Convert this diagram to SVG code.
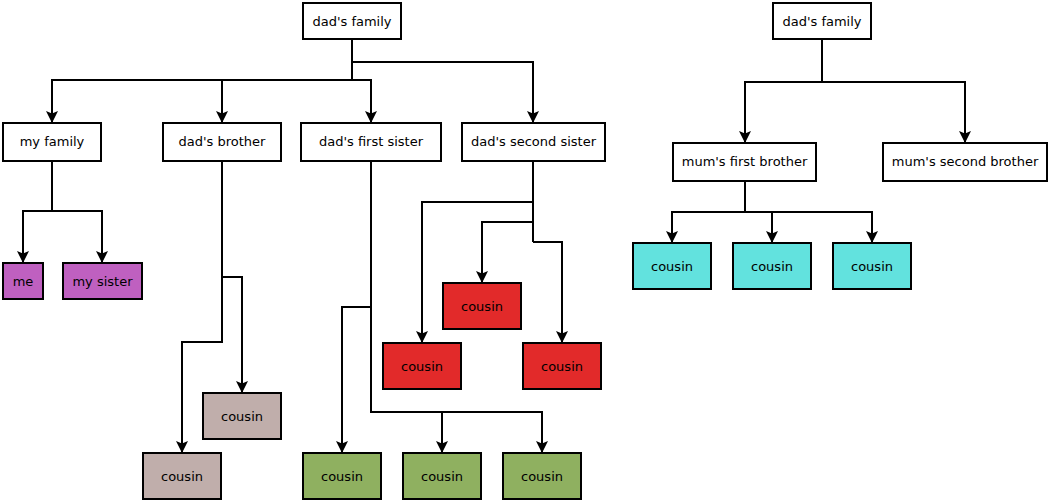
<svg xmlns="http://www.w3.org/2000/svg" width="1050" height="501" viewBox="0 0 1050 501">
<style>
.box{stroke:#000;stroke-width:2;fill:#fff}
.purple{fill:#bf60c0}
.brown{fill:#c0aeab}
.green{fill:#8fb060}
.red{fill:#e22a2a}
.cyan{fill:#62e2de}
text{font-family:"DejaVu Sans","Liberation Sans",sans-serif;font-size:13px;fill:#000;text-anchor:middle}
.c path{fill:none;stroke:#000;stroke-width:2}
.c path.a{marker-end:url(#arr)}
</style>
<defs>
<marker id="arr" viewBox="0 0 12 12" markerWidth="12" markerHeight="12" refX="11" refY="6" orient="auto" markerUnits="userSpaceOnUse">
<path d="M0,0 L12,6 L0,12 L2.5,6 Z" fill="#000"/>
</marker>
</defs>
<g class="c" id="connectors">
<path d="M352,39 V80"/>
<path class="a" d="M352,80 H52 V122"/>
<path class="a" d="M352,80 H222 V122"/>
<path class="a" d="M352,80 H371 V122"/>
<path class="a" d="M352,62 H533 V122"/>
<path d="M52,161 V211"/>
<path class="a" d="M52,211 H23 V262"/>
<path class="a" d="M52,211 H102 V262"/>
<path class="a" d="M222,161 V342 H182 V452"/>
<path class="a" d="M222,277 H242 V392"/>
<path class="a" d="M371,161 V412 H542 V452"/>
<path class="a" d="M442,412 V452"/>
<path class="a" d="M371,307 H342 V452"/>
<path d="M533,161 V242"/>
<path class="a" d="M533,202 H422 V342"/>
<path class="a" d="M533,222 H482 V282"/>
<path class="a" d="M533,242 H562 V342"/>
<path d="M822,39 V82"/>
<path class="a" d="M822,82 H745 V142"/>
<path class="a" d="M822,82 H965 V142"/>
<path d="M745,181 V212"/>
<path class="a" d="M745,212 H672 V242"/>
<path class="a" d="M745,212 H772 V242"/>
<path class="a" d="M745,212 H872 V242"/>
</g>
<g id="n-dads-family"><rect class="box" x="303" y="3" width="98" height="36"/><text x="352" y="25.5">dad's family</text></g>
<g id="n-my-family"><rect class="box" x="3" y="123" width="98" height="38"/><text x="52" y="146">my family</text></g>
<g id="n-dads-brother"><rect class="box" x="163" y="123" width="118" height="38"/><text x="222" y="146">dad's brother</text></g>
<g id="n-dads-first-sister"><rect class="box" x="301" y="123" width="140" height="38"/><text x="371" y="146">dad's first sister</text></g>
<g id="n-dads-second-sister"><rect class="box" x="462" y="123" width="143" height="38"/><text x="533.5" y="146">dad's second sister</text></g>
<g id="n-me"><rect class="box purple" x="3" y="263" width="40" height="36"/><text x="23" y="285.5">me</text></g>
<g id="n-my-sister"><rect class="box purple" x="63" y="263" width="79" height="36"/><text x="102.5" y="285.5">my sister</text></g>
<g id="n-cousin-b1"><rect class="box brown" x="203" y="393" width="78" height="46"/><text x="242" y="420.5">cousin</text></g>
<g id="n-cousin-b2"><rect class="box brown" x="143" y="453" width="78" height="46"/><text x="182" y="480.5">cousin</text></g>
<g id="n-cousin-g1"><rect class="box green" x="303" y="453" width="78" height="46"/><text x="342" y="480.5">cousin</text></g>
<g id="n-cousin-g2"><rect class="box green" x="403" y="453" width="78" height="46"/><text x="442" y="480.5">cousin</text></g>
<g id="n-cousin-g3"><rect class="box green" x="503" y="453" width="78" height="46"/><text x="542" y="480.5">cousin</text></g>
<g id="n-cousin-r1"><rect class="box red" x="443" y="283" width="78" height="46"/><text x="482" y="310.5">cousin</text></g>
<g id="n-cousin-r2"><rect class="box red" x="383" y="343" width="78" height="46"/><text x="422" y="370.5">cousin</text></g>
<g id="n-cousin-r3"><rect class="box red" x="523" y="343" width="78" height="46"/><text x="562" y="370.5">cousin</text></g>
<g id="n-dads-family-2"><rect class="box" x="773" y="3" width="98" height="36"/><text x="822" y="25.5">dad's family</text></g>
<g id="n-mums-first-brother"><rect class="box" x="673" y="143" width="143" height="38"/><text x="744.5" y="166">mum's first brother</text></g>
<g id="n-mums-second-brother"><rect class="box" x="883" y="143" width="164" height="38"/><text x="965" y="166">mum's second brother</text></g>
<g id="n-cousin-c1"><rect class="box cyan" x="633" y="243" width="78" height="46"/><text x="672" y="270.5">cousin</text></g>
<g id="n-cousin-c2"><rect class="box cyan" x="733" y="243" width="78" height="46"/><text x="772" y="270.5">cousin</text></g>
<g id="n-cousin-c3"><rect class="box cyan" x="833" y="243" width="78" height="46"/><text x="872" y="270.5">cousin</text></g>
</svg>
